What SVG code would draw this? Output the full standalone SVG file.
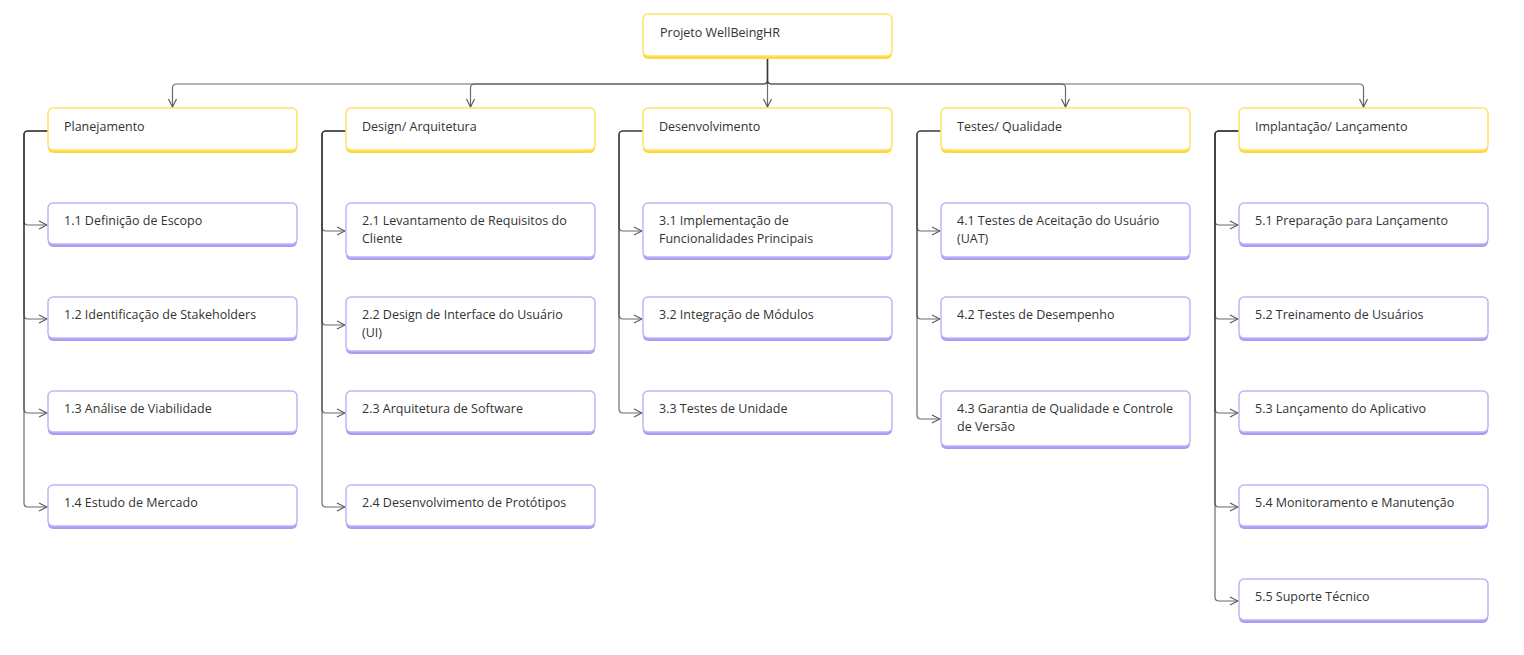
<svg xmlns="http://www.w3.org/2000/svg" width="1524" height="655" viewBox="0 0 1524 655">
<defs>
<marker id="arr" viewBox="0 0 10 10" refX="9" refY="5" markerWidth="10" markerHeight="10" markerUnits="userSpaceOnUse" orient="auto">
<path d="M1,1 L9,5 L1,9" fill="none" stroke="#555" stroke-width="1.1"/>
</marker>
</defs>
<style>
text{font-family:"Open Sans","Noto Sans","DejaVu Sans",sans-serif;font-size:12.5px;fill:#333;}
.ys{fill:#FFD83A;}
.yb{fill:#fff;stroke:#FFE266;stroke-width:1.5;}
.ps{fill:#AA9CF2;}
.pb{fill:#fff;stroke:#BFB5F8;stroke-width:1.5;}
.c{fill:none;stroke:#3a3a3a;stroke-opacity:0.75;stroke-width:1.2;}
</style>
<rect width="1524" height="655" fill="#fff"/>
<g id="connectors">
<path class="c" d="M767.5,58 V80 Q767.5,84 763.5,84 H176.5 Q172.5,84 172.5,88 V107" marker-end="url(#arr)"/>
<path class="c" d="M767.5,58 V80 Q767.5,84 763.5,84 H474.5 Q470.5,84 470.5,88 V107" marker-end="url(#arr)"/>
<path class="c" d="M767.5,58 V107" marker-end="url(#arr)"/>
<path class="c" d="M767.5,58 V80 Q767.5,84 771.5,84 H1061.5 Q1065.5,84 1065.5,88 V107" marker-end="url(#arr)"/>
<path class="c" d="M767.5,58 V80 Q767.5,84 771.5,84 H1359.5 Q1363.5,84 1363.5,88 V107" marker-end="url(#arr)"/>
<path class="c" d="M48,131 H28 Q24,131 24,135 V221 Q24,225 28,225 H47" marker-end="url(#arr)"/>
<path class="c" d="M48,131 H28 Q24,131 24,135 V315 Q24,319 28,319 H47" marker-end="url(#arr)"/>
<path class="c" d="M48,131 H28 Q24,131 24,135 V409 Q24,413 28,413 H47" marker-end="url(#arr)"/>
<path class="c" d="M48,131 H28 Q24,131 24,135 V503 Q24,507 28,507 H47" marker-end="url(#arr)"/>
<path class="c" d="M346,131 H326 Q322,131 322,135 V227 Q322,231 326,231 H345" marker-end="url(#arr)"/>
<path class="c" d="M346,131 H326 Q322,131 322,135 V321 Q322,325 326,325 H345" marker-end="url(#arr)"/>
<path class="c" d="M346,131 H326 Q322,131 322,135 V409 Q322,413 326,413 H345" marker-end="url(#arr)"/>
<path class="c" d="M346,131 H326 Q322,131 322,135 V503 Q322,507 326,507 H345" marker-end="url(#arr)"/>
<path class="c" d="M643,131 H623 Q619,131 619,135 V227 Q619,231 623,231 H642" marker-end="url(#arr)"/>
<path class="c" d="M643,131 H623 Q619,131 619,135 V315 Q619,319 623,319 H642" marker-end="url(#arr)"/>
<path class="c" d="M643,131 H623 Q619,131 619,135 V409 Q619,413 623,413 H642" marker-end="url(#arr)"/>
<path class="c" d="M941,131 H921 Q917,131 917,135 V227 Q917,231 921,231 H940" marker-end="url(#arr)"/>
<path class="c" d="M941,131 H921 Q917,131 917,135 V315 Q917,319 921,319 H940" marker-end="url(#arr)"/>
<path class="c" d="M941,131 H921 Q917,131 917,135 V415 Q917,419 921,419 H940" marker-end="url(#arr)"/>
<path class="c" d="M1239,131 H1219 Q1215,131 1215,135 V221 Q1215,225 1219,225 H1238" marker-end="url(#arr)"/>
<path class="c" d="M1239,131 H1219 Q1215,131 1215,135 V315 Q1215,319 1219,319 H1238" marker-end="url(#arr)"/>
<path class="c" d="M1239,131 H1219 Q1215,131 1215,135 V409 Q1215,413 1219,413 H1238" marker-end="url(#arr)"/>
<path class="c" d="M1239,131 H1219 Q1215,131 1215,135 V503 Q1215,507 1219,507 H1238" marker-end="url(#arr)"/>
<path class="c" d="M1239,131 H1219 Q1215,131 1215,135 V597 Q1215,601 1219,601 H1238" marker-end="url(#arr)"/>
</g>
<g id="root"><rect class="ys" x="643" y="17" width="249" height="42" rx="5"/><rect class="yb" x="643" y="14" width="249" height="42" rx="5"/><text x="660" y="37">Projeto WellBeingHR</text></g>

<g id="n1"><rect class="ys" x="48" y="111" width="249" height="42" rx="5"/><rect class="yb" x="48" y="108" width="249" height="42" rx="5"/><text x="64" y="131">Planejamento</text></g>
<g id="n2"><rect class="ys" x="346" y="111" width="249" height="42" rx="5"/><rect class="yb" x="346" y="108" width="249" height="42" rx="5"/><text x="362" y="131">Design/ Arquitetura</text></g>
<g id="n3"><rect class="ys" x="643" y="111" width="249" height="42" rx="5"/><rect class="yb" x="643" y="108" width="249" height="42" rx="5"/><text x="659" y="131">Desenvolvimento</text></g>
<g id="n4"><rect class="ys" x="941" y="111" width="249" height="42" rx="5"/><rect class="yb" x="941" y="108" width="249" height="42" rx="5"/><text x="957" y="131">Testes/ Qualidade</text></g>
<g id="n5"><rect class="ys" x="1239" y="111" width="249" height="42" rx="5"/><rect class="yb" x="1239" y="108" width="249" height="42" rx="5"/><text x="1255" y="131">Implantação/ Lançamento</text></g>

<g id="n1-1"><rect class="ps" x="48" y="206" width="249" height="41" rx="5"/><rect class="pb" x="48" y="203" width="249" height="41" rx="5"/><text x="64" y="225">1.1 Definição de Escopo</text></g>
<g id="n1-2"><rect class="ps" x="48" y="300" width="249" height="41" rx="5"/><rect class="pb" x="48" y="297" width="249" height="41" rx="5"/><text x="64" y="319">1.2 Identificação de Stakeholders</text></g>
<g id="n1-3"><rect class="ps" x="48" y="394" width="249" height="41" rx="5"/><rect class="pb" x="48" y="391" width="249" height="41" rx="5"/><text x="64" y="413">1.3 Análise de Viabilidade</text></g>
<g id="n1-4"><rect class="ps" x="48" y="488" width="249" height="41" rx="5"/><rect class="pb" x="48" y="485" width="249" height="41" rx="5"/><text x="64" y="507">1.4 Estudo de Mercado</text></g>

<g id="n2-1"><rect class="ps" x="346" y="206" width="249" height="54" rx="5"/><rect class="pb" x="346" y="203" width="249" height="54" rx="5"/><text x="362" y="225">2.1 Levantamento de Requisitos do</text><text x="362" y="243">Cliente</text></g>
<g id="n2-2"><rect class="ps" x="346" y="300" width="249" height="54" rx="5"/><rect class="pb" x="346" y="297" width="249" height="54" rx="5"/><text x="362" y="319">2.2 Design de Interface do Usuário</text><text x="362" y="337">(UI)</text></g>
<g id="n2-3"><rect class="ps" x="346" y="394" width="249" height="41" rx="5"/><rect class="pb" x="346" y="391" width="249" height="41" rx="5"/><text x="362" y="413">2.3 Arquitetura de Software</text></g>
<g id="n2-4"><rect class="ps" x="346" y="488" width="249" height="41" rx="5"/><rect class="pb" x="346" y="485" width="249" height="41" rx="5"/><text x="362" y="507">2.4 Desenvolvimento de Protótipos</text></g>

<g id="n3-1"><rect class="ps" x="643" y="206" width="249" height="54" rx="5"/><rect class="pb" x="643" y="203" width="249" height="54" rx="5"/><text x="659" y="225">3.1 Implementação de</text><text x="659" y="243">Funcionalidades Principais</text></g>
<g id="n3-2"><rect class="ps" x="643" y="300" width="249" height="41" rx="5"/><rect class="pb" x="643" y="297" width="249" height="41" rx="5"/><text x="659" y="319">3.2 Integração de Módulos</text></g>
<g id="n3-3"><rect class="ps" x="643" y="394" width="249" height="41" rx="5"/><rect class="pb" x="643" y="391" width="249" height="41" rx="5"/><text x="659" y="413">3.3 Testes de Unidade</text></g>

<g id="n4-1"><rect class="ps" x="941" y="206" width="249" height="54" rx="5"/><rect class="pb" x="941" y="203" width="249" height="54" rx="5"/><text x="957" y="225">4.1 Testes de Aceitação do Usuário</text><text x="957" y="243">(UAT)</text></g>
<g id="n4-2"><rect class="ps" x="941" y="300" width="249" height="41" rx="5"/><rect class="pb" x="941" y="297" width="249" height="41" rx="5"/><text x="957" y="319">4.2 Testes de Desempenho</text></g>
<g id="n4-3"><rect class="ps" x="941" y="394" width="249" height="55" rx="5"/><rect class="pb" x="941" y="391" width="249" height="55" rx="5"/><text x="957" y="413">4.3 Garantia de Qualidade e Controle</text><text x="957" y="431">de Versão</text></g>

<g id="n5-1"><rect class="ps" x="1239" y="206" width="249" height="41" rx="5"/><rect class="pb" x="1239" y="203" width="249" height="41" rx="5"/><text x="1255" y="225">5.1 Preparação para Lançamento</text></g>
<g id="n5-2"><rect class="ps" x="1239" y="300" width="249" height="41" rx="5"/><rect class="pb" x="1239" y="297" width="249" height="41" rx="5"/><text x="1255" y="319">5.2 Treinamento de Usuários</text></g>
<g id="n5-3"><rect class="ps" x="1239" y="394" width="249" height="41" rx="5"/><rect class="pb" x="1239" y="391" width="249" height="41" rx="5"/><text x="1255" y="413">5.3 Lançamento do Aplicativo</text></g>
<g id="n5-4"><rect class="ps" x="1239" y="488" width="249" height="41" rx="5"/><rect class="pb" x="1239" y="485" width="249" height="41" rx="5"/><text x="1255" y="507">5.4 Monitoramento e Manutenção</text></g>
<g id="n5-5"><rect class="ps" x="1239" y="582" width="249" height="41" rx="5"/><rect class="pb" x="1239" y="579" width="249" height="41" rx="5"/><text x="1255" y="601">5.5 Suporte Técnico</text></g>
</svg>
